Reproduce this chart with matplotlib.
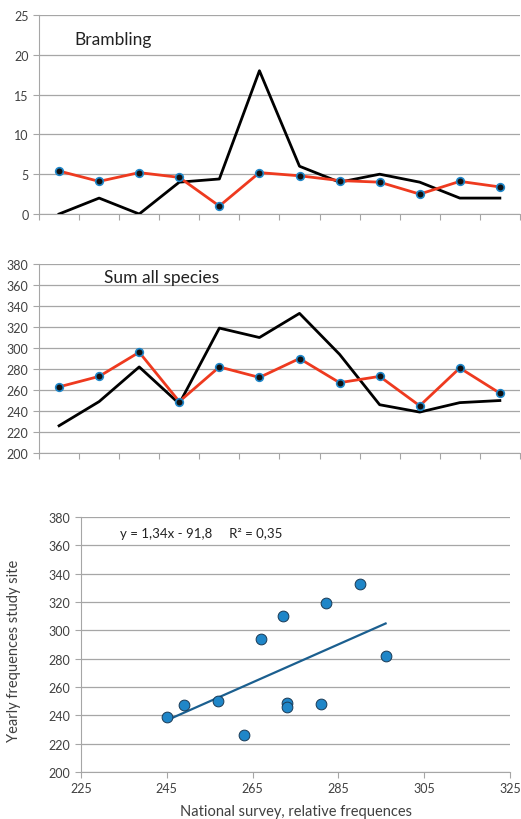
import numpy as np
import matplotlib
matplotlib.use("Agg")
import matplotlib.pyplot as plt

plt.rcParams['font.family'] = ['Lato', 'DejaVu Sans']

# Brambling: national survey (red) vs study site (black)
bramb_national = [5.4, 4.1, 5.2, 4.6, 1.0, 5.2, 4.8, 4.2, 4.0, 2.5, 4.1, 3.4]
bramb_site = [0, 2, 0, 4, 4.4, 18, 6, 4, 5, 4, 2, 2]

# Sum all species
sum_national = [263, 273, 296, 249, 282, 272, 290, 267, 273, 245, 281, 257]
sum_site = [226, 249, 282, 247, 319, 310, 333, 294, 246, 239, 248, 250]

# regression shown on chart
slope = 1.34
intercept = -91.8

RED = '#EE3A1F'
BLUE = '#1F86C8'
GRID = '#A6A6A6'
TXT = '#404040'

fig = plt.figure(figsize=(5.21, 8.2), dpi=100)


def style(ax):
    for s in ['top', 'right']:
        ax.spines[s].set_visible(False)
    for s in ['left', 'bottom']:
        ax.spines[s].set_color(GRID)
    ax.yaxis.grid(True, color=GRID, lw=0.9)
    ax.set_axisbelow(True)
    ax.tick_params(colors=GRID, labelcolor=TXT, labelsize=9, length=4)


def line_panel(rect, nat, site, ylim, step, title, tpos):
    ax = fig.add_axes(rect)
    style(ax)
    n = len(nat)
    x = np.arange(n)
    ax.plot(x, site, color='black', lw=2, zorder=3)
    ax.plot(x, nat, color=RED, lw=2, zorder=4, marker='o', ms=5.5,
            mfc='#111111', mec=BLUE, mew=1.2)
    ax.set_xlim(-0.5, n - 0.5)
    ax.set_ylim(*ylim)
    ax.set_yticks(np.arange(ylim[0], ylim[1] + 1, step))
    ax.set_xticks(np.arange(n + 1) - 0.5)
    ax.set_xticklabels([])
    ax.text(tpos[0], tpos[1], title, transform=ax.transAxes, fontsize=12.5,
            color='#222222')
    return ax


line_panel([0.0749, 0.7378, 0.923, 0.2427], bramb_national, bramb_site,
           (0, 25), 5, 'Brambling', (0.073, 0.855))
line_panel([0.0749, 0.4463, 0.923, 0.2305], sum_national, sum_site,
           (200, 380), 20, 'Sum all species', (0.135, 0.905))

ax = fig.add_axes([0.1555, 0.0573, 0.8234, 0.311])
style(ax)
ax.scatter(sum_national, sum_site, s=60, color=BLUE, edgecolor='#1a3a55',
           lw=0.7, zorder=4)
xs = np.array([min(sum_national), max(sum_national)])
ax.plot(xs, slope * xs + intercept, color='#1B5F8F', lw=1.6, zorder=3)
ax.set_xlim(225, 325)
ax.set_ylim(200, 380)
ax.set_xticks(np.arange(225, 326, 20))
ax.set_yticks(np.arange(200, 381, 20))
ax.text(0.09, 0.92, 'y = 1,34x - 91,8     R² = 0,35', transform=ax.transAxes,
        fontsize=9.5, color='#222222')
ax.set_xlabel('National survey, relative frequences', fontsize=10.5, color=TXT)
ax.set_ylabel('Yearly frequences study site', fontsize=10.5, color=TXT)
ax.yaxis.set_label_coords(-0.14, 0.48)
ax.xaxis.set_label_coords(0.5, -0.125)

fig.savefig('out.png', dpi=100)
